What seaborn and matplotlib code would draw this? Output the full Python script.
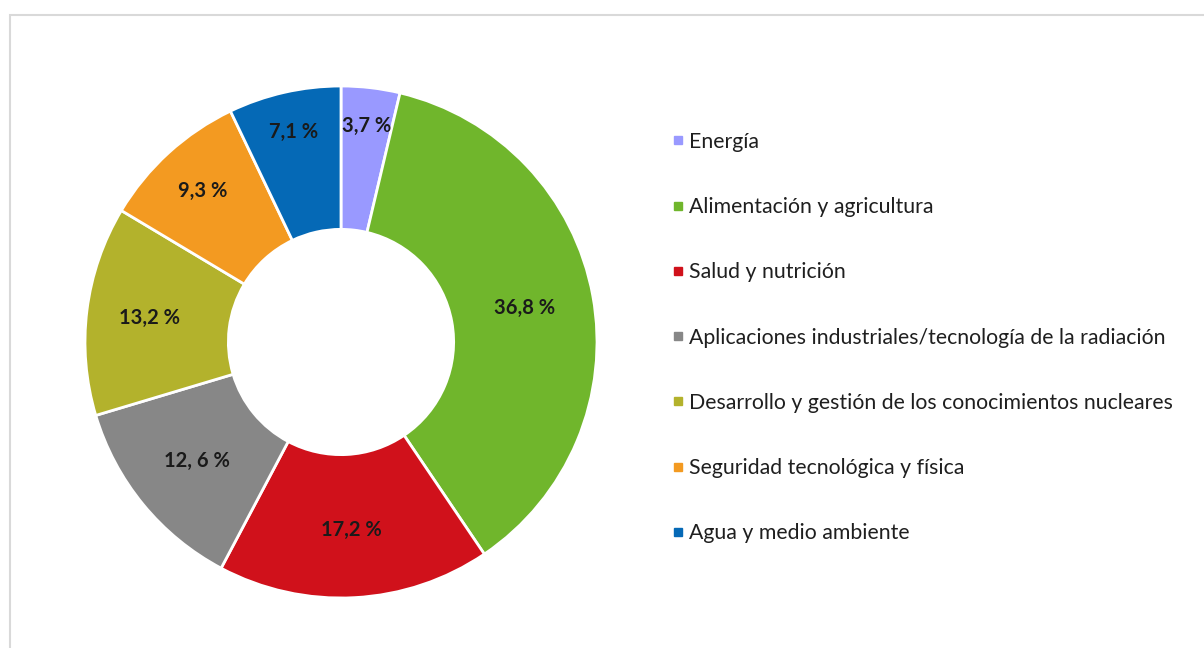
import matplotlib
matplotlib.use('Agg')
import matplotlib.pyplot as plt
from matplotlib.lines import Line2D
from matplotlib.patches import Rectangle
import numpy as np
import seaborn as sns

categories = ['Energía', 'Alimentación y agricultura', 'Salud y nutrición',
              'Aplicaciones industriales/tecnología de la radiación',
              'Desarrollo y gestión de los conocimientos nucleares',
              'Seguridad tecnológica y física', 'Agua y medio ambiente']
shares = [3.7, 36.8, 17.2, 12.6, 13.2, 9.3, 7.1]
share_labels = ['3,7 %', '36,8 %', '17,2 %', '12, 6 %', '13,2 %', '9,3 %', '7,1 %']
colors = ['#9999FF', '#70B62C', '#D0111B', '#878787', '#B3B22C', '#F39A21', '#0569B6']
# distancia radial de cada etiqueta (estilo "mejor ajuste")
label_radius = [0.85, 0.73, 0.735, 0.73, 0.755, 0.8, 0.84]

sns.set_theme(style='white')
plt.rcParams['font.family'] = ['Lato', 'DejaVu Sans']

palette = sns.color_palette(colors)

fig = plt.figure(figsize=(12.04, 6.48), dpi=100)
W, H = 1204, 648

# marco gris claro
fig.patches.append(Rectangle((10 / W, -0.1), 1.2, (H - 15) / H + 0.1, transform=fig.transFigure,
                             fill=False, edgecolor='#d9d9d9', linewidth=1.5))

cx, cy, r = 341, H - 342, 256
ax = fig.add_axes([(cx - r) / W, (cy - r) / H, 2 * r / W, 2 * r / H])
wedges, _ = ax.pie(shares, colors=palette, startangle=90, counterclock=False, radius=1,
                   wedgeprops=dict(width=0.56, edgecolor='white', linewidth=2))
ax.set_xlim(-1, 1)
ax.set_ylim(-1, 1)
ax.axis('off')

# etiquetas de porcentaje
acc = 0
total = sum(shares)
for s, lab, rr in zip(shares, share_labels, label_radius):
    mid = 90 - (acc + s / 2) / total * 360
    acc += s
    ax.text(rr * np.cos(np.radians(mid)), rr * np.sin(np.radians(mid)), lab,
            ha='center', va='center', fontsize=14.5, fontweight='bold', color='#1a1a1a')

handles = [Line2D([], [], marker='s', linestyle='', markersize=5.5, color=c) for c in palette]
fig.legend(handles, categories, loc='center left', bbox_to_anchor=(672 / W, (H - 337.5) / H),
           frameon=False, fontsize=15.3, labelspacing=2.13, handlelength=0.6, handletextpad=0.2,
           borderpad=0, borderaxespad=0, labelcolor='#1f1f1f')

fig.savefig('out.png', dpi=100)
